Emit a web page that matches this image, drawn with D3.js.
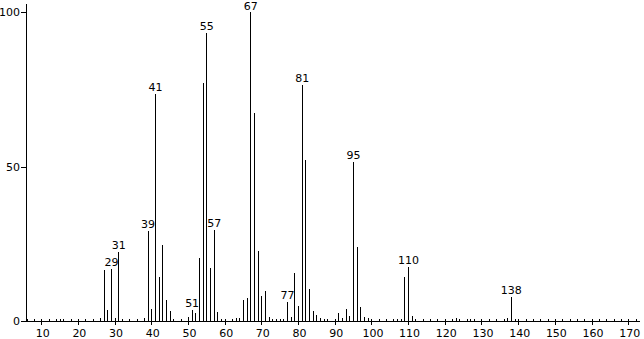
<!DOCTYPE html>
<html>
<head>
<meta charset="utf-8">
<script src="https://cdn.jsdelivr.net/npm/d3@7"></script>
<style>
  body { margin: 0; background: #fff; }
  text { font-family: "DejaVu Sans", sans-serif; font-size: 11px; fill: #000; }
</style>
</head>
<body>
<div id="chart"></div>
<script>
// m/z values and relative intensities (%)
var mz = [15, 26, 27, 28, 29, 30, 31, 32, 38, 39, 40, 41, 42, 43, 44, 45, 46,
  50, 51, 52, 53, 54, 55, 56, 57, 58, 59, 62, 63, 64, 65, 66, 67, 68, 69, 70, 71,
  72, 73, 74, 75, 77, 78, 79, 80, 81, 82, 83, 84, 85, 86, 87, 91, 92, 93, 94, 95,
  96, 97, 98, 99, 107, 108, 109, 110, 111, 112, 122, 123, 124, 127, 128, 136, 137, 138, 139];
var intensity = [0.5, 1.1, 16.4, 3.4, 16.8, 1.0, 22.3, 0.5, 1.0, 29.0, 4.0, 73.5, 14.1, 24.6, 6.8, 3.3, 0.7,
  1.3, 3.6, 2.6, 20.3, 77.0, 93.2, 17.3, 29.4, 3.0, 0.8, 0.6, 1.0, 1.0, 6.8, 7.4, 100, 67.3, 22.8, 8.2, 9.7,
  1.4, 0.7, 0.7, 0.5, 6.1, 1.4, 15.6, 4.9, 76.4, 52.1, 10.5, 3.2, 2.0, 1.0, 0.7, 2.7, 1.0, 3.9, 1.7, 51.6,
  24.0, 4.6, 1.4, 1.0, 0.5, 0.8, 14.3, 17.6, 1.6, 0.8, 0.5, 0.9, 0.6, 0.5, 0.8, 0.5, 1.0, 7.7, 0.6];
var labeledPeaks = [29, 31, 39, 41, 51, 55, 57, 67, 77, 81, 95, 110, 138];
var xTickLabels = [10, 20, 30, 40, 50, 60, 70, 80, 90, 100, 110, 120, 130, 140, 150, 160, 170];
var yTickLabels = [0, 50, 100];

var width = 644, height = 339;
var x = d3.scaleLinear().domain([5.86, 173.2]).range([26, 640]);
var y = d3.scaleLinear().domain([0, 100]).range([321, 12]);

var svg = d3.select('#chart').append('svg')
  .attr('width', width)
  .attr('height', height)
  .attr('shape-rendering', 'crispEdges');

function px(v) { return Math.round(v) + 0.5; }

// peaks
var peaks = mz.map(function(m, i) { return {mz: m, value: intensity[i]}; });
svg.append('g').selectAll('line')
  .data(peaks)
  .enter().append('line')
  .attr('x1', function(d) { return px(x(d.mz)); })
  .attr('x2', function(d) { return px(x(d.mz)); })
  .attr('y1', px(y(0)))
  .attr('y2', function(d) { return Math.round(y(d.value)); })
  .attr('stroke', '#000');

// peak labels
svg.append('g').selectAll('text')
  .data(peaks.filter(function(d) { return labeledPeaks.indexOf(d.mz) >= 0; }))
  .enter().append('text')
  .attr('x', function(d) { return x(d.mz) + 0.5; })
  .attr('y', function(d) { return Math.max(9.5, y(d.value) - 3); })
  .attr('text-anchor', 'middle')
  .text(function(d) { return d.mz; });

// x axis
var xAxis = svg.append('g');
xAxis.append('line')
  .attr('x1', 26).attr('x2', 640)
  .attr('y1', px(y(0))).attr('y2', px(y(0)))
  .attr('stroke', '#000');
xAxis.selectAll('.minor')
  .data(d3.range(6, 174, 2))
  .enter().append('line')
  .attr('x1', function(d) { return px(x(d)); })
  .attr('x2', function(d) { return px(x(d)); })
  .attr('y1', px(y(0)) - 3)
  .attr('y2', function(d) { return d % 10 === 0 ? px(y(0)) + 3 : px(y(0)); })
  .attr('stroke', '#000');
xAxis.selectAll('text')
  .data(xTickLabels)
  .enter().append('text')
  .attr('x', function(d) { return x(d) + 1.5; })
  .attr('y', 337)
  .attr('text-anchor', 'middle')
  .text(function(d) { return d; });

// y axis
var yAxis = svg.append('g');
yAxis.append('line')
  .attr('x1', 26.5).attr('x2', 26.5)
  .attr('y1', 4).attr('y2', px(y(0)))
  .attr('stroke', '#000');
yAxis.selectAll('.tick')
  .data(yTickLabels)
  .enter().append('line')
  .attr('x1', 21).attr('x2', 26)
  .attr('y1', function(d) { return px(y(d)); })
  .attr('y2', function(d) { return px(y(d)); })
  .attr('stroke', '#000');
yAxis.selectAll('text')
  .data(yTickLabels)
  .enter().append('text')
  .attr('x', 20)
  .attr('y', function(d) { return y(d) + 4; })
  .attr('text-anchor', 'end')
  .text(function(d) { return d; });
</script>
</body>
</html>
